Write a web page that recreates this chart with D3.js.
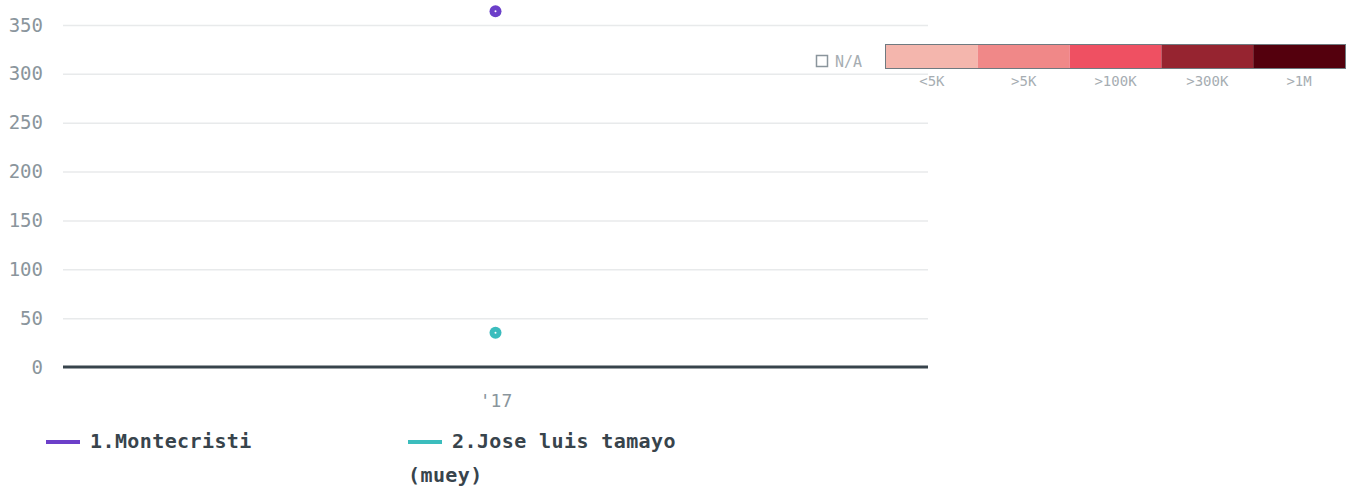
<!DOCTYPE html>
<meta charset="utf-8">
<html>
<head>
<script src="https://cdn.jsdelivr.net/npm/d3@7"></script>
<style>
body { margin:0; background:#fff; }
svg text { font-family:"DejaVu Sans Mono", "Liberation Mono", monospace; }
.y-axis text { fill:#8a959c; font-size:19px; }
.y-axis path { stroke-width:0; }
.y-axis line { stroke:#e8eaeb; stroke-width:1.5; }
.x-axis text { fill:#8a959c; font-size:18px; }
.x-axis path, .x-axis line { stroke-width:0; }
.leg text { fill:#38444c; font-size:20px; font-weight:bold; letter-spacing:0.4px; }
.scale text { fill:#a6adb2; font-size:14px; }
</style>
</head>
<body>
<script>

//Data
var years = ["'17"];
var seriesNames = ["1.Montecristi", "2.Jose luis tamayo (muey)"];
var seriesColors = ["#6c3fc9", "#3bbdbd"];
var seriesValues = [[364], [35]];
var yTicks = [0, 50, 100, 150, 200, 250, 300, 350];
var scaleLabels = ["<5K", ">5K", ">100K", ">300K", ">1M"];
var scaleColors = ["#f4b6ad", "#f08888", "#ef5062", "#962430", "#54000d"];

var W = 1353, H = 490;
var m = {top:25, left:63, right:425, bottom:123};
var w = W - m.left - m.right, h = H - m.top - m.bottom;

var svg = d3.select("body").append("svg")
    .attr("width", W).attr("height", H);

var g = svg.append("g").attr("transform", `translate(${m.left}, ${m.top})`);

var x = d3.scalePoint().domain(years).range([0, w]).padding(0.5);
var y = d3.scaleLinear().domain([0, 350]).range([h, 0]);

//Y axis with grid
g.append("g")
    .attr("class", "y-axis")
    .call(d3.axisLeft(y).tickValues(yTicks).tickSize(-w).tickPadding(20))
    .selectAll("line").filter(d => d === 0).remove();

//X axis
g.append("g")
    .attr("class", "x-axis")
    .attr("transform", `translate(0, ${h})`)
    .call(d3.axisBottom(x).tickSize(0).tickPadding(27));

//Baseline
g.append("line")
    .attr("x1", 0).attr("x2", w)
    .attr("y1", y(0)).attr("y2", y(0))
    .attr("stroke", "#38444c").attr("stroke-width", 3);

//Points
seriesValues.forEach(function(vals, i) {
  g.selectAll(".pt" + i)
    .data(vals)
    .enter()
    .append("circle")
    .attr("cx", (d, j) => x(years[j]))
    .attr("cy", d => y(d))
    .attr("r", 6)
    .attr("fill", seriesColors[i]);
  g.selectAll(".dot" + i)
    .data(vals)
    .enter()
    .append("circle")
    .attr("cx", (d, j) => x(years[j]))
    .attr("cy", d => y(d))
    .attr("r", 1)
    .attr("fill", "#fff");
});

//Series legend
var legX = [46, 408];
var leg = svg.append("g").attr("class", "leg");
seriesNames.forEach(function(name, i) {
  leg.append("line")
    .attr("x1", legX[i]).attr("x2", legX[i] + 34)
    .attr("y1", 442).attr("y2", 442)
    .attr("stroke", seriesColors[i]).attr("stroke-width", 4);
  if (i === 1) {
    leg.append("text").attr("x", legX[i] + 44).attr("y", 448).text("2.Jose luis tamayo");
    leg.append("text").attr("x", legX[i]).attr("y", 482).text("(muey)");
  } else {
    leg.append("text").attr("x", legX[i] + 44).attr("y", 448).text(name);
  }
});

//Colour scale legend
var sx = d3.scaleBand().domain(scaleLabels).range([886, 1345]);
var sc = svg.append("g").attr("class", "scale");
sc.selectAll("rect.seg")
  .data(scaleLabels)
  .enter()
  .append("rect")
  .attr("x", d => sx(d)).attr("y", 45)
  .attr("width", sx.bandwidth()).attr("height", 23)
  .attr("fill", (d, i) => scaleColors[i]);
sc.append("rect")
  .attr("x", 885.5).attr("y", 44.5)
  .attr("width", 460).attr("height", 24)
  .attr("fill", "none").attr("stroke", "#6f7a80").attr("stroke-width", 1);
sc.selectAll("text.lab")
  .data(scaleLabels)
  .enter()
  .append("text")
  .attr("x", d => sx(d) + sx.bandwidth() / 2)
  .attr("y", 86)
  .attr("text-anchor", "middle")
  .text(d => d);
sc.append("rect")
  .attr("x", 816.5).attr("y", 55.5)
  .attr("width", 11).attr("height", 11)
  .attr("fill", "none").attr("stroke", "#8a959c").attr("stroke-width", 1.5);
sc.append("text")
  .attr("x", 835).attr("y", 67)
  .attr("fill", "#8a959c").style("font-size", "15px")
  .text("N/A");

</script>
</body>
</html>
